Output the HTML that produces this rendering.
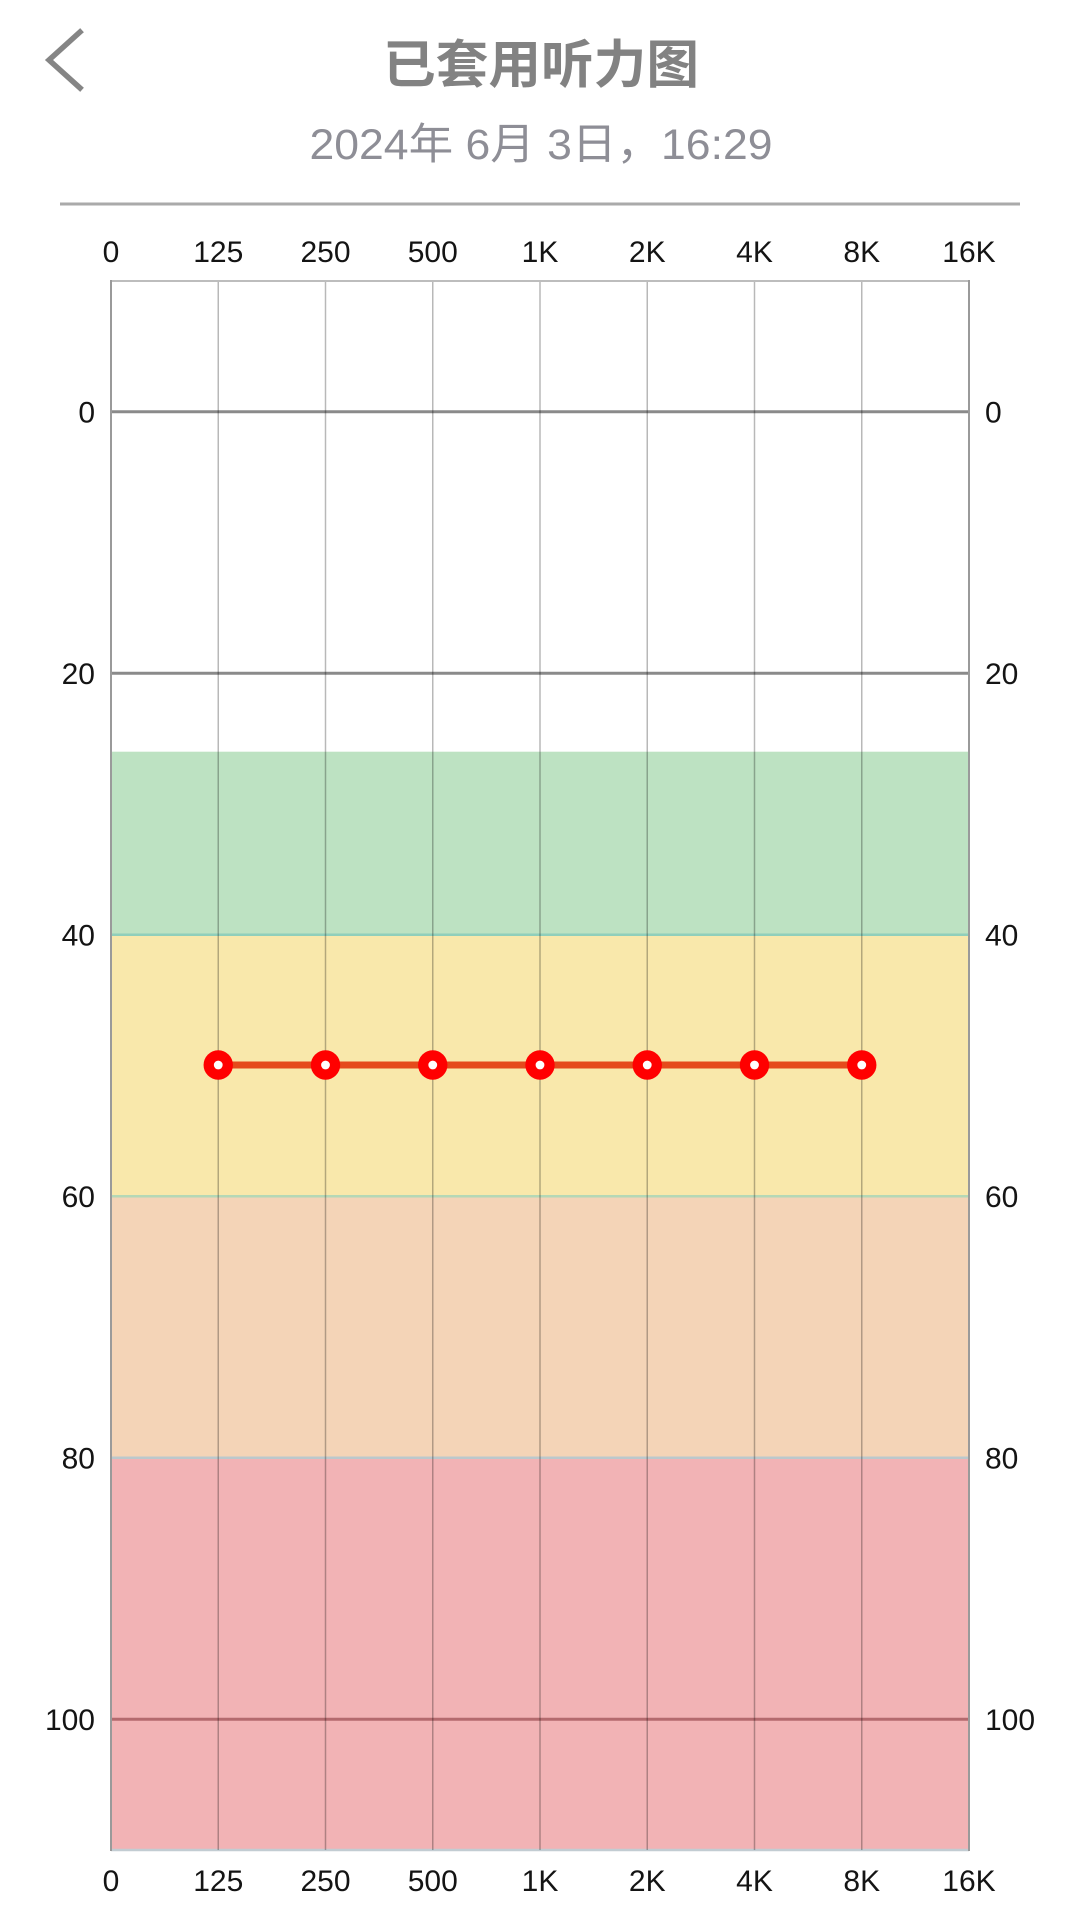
<!DOCTYPE html>
<html>
<head>
<meta charset="utf-8">
<style>
  html, body { margin:0; padding:0; background:#ffffff; }
  body { width:1080px; height:1920px; overflow:hidden; position:relative; }
  svg { position:absolute; left:0; top:0; }
  .ax { font-family: "Liberation Sans", "Noto Sans CJK SC", sans-serif; font-size:30px; fill:#141414; }
</style>
</head>
<body>
<svg width="1080" height="1920" viewBox="0 0 1080 1920" xmlns="http://www.w3.org/2000/svg">
  <!-- header -->
  <polyline points="80,32 49,60 80,88" fill="none" stroke="#858585" stroke-width="5.5" stroke-linecap="square" stroke-linejoin="miter"/>
  <text x="541" y="83" text-anchor="middle" textLength="316" lengthAdjust="spacingAndGlyphs"
        style="font-family:'Liberation Sans','Noto Sans CJK SC',sans-serif;font-size:52px;font-weight:bold;fill:#828282;">已套用听力图</text>
  <text x="541" y="159" text-anchor="middle" textLength="463" lengthAdjust="spacingAndGlyphs"
        style="font-family:'Liberation Sans','Noto Sans CJK SC',sans-serif;font-size:43px;fill:#8e8e96;">2024年 6月 3日，16:29</text>
  <line x1="60" y1="204" x2="1020" y2="204" stroke="#aaaaaa" stroke-width="3"/>

  <!-- bands -->
  <rect x="111" y="751.7" width="858" height="183" fill="#bde2c2"/>
  <rect x="111" y="934.7" width="858" height="261.6" fill="#f9e8ab"/>
  <rect x="111" y="1196.3" width="858" height="261.5" fill="#f4d4b7"/>
  <rect x="111" y="1457.8" width="858" height="392.3" fill="#f2b3b5"/>

  <!-- horizontal major lines -->
  <line x1="111" y1="411.7" x2="969" y2="411.7" stroke="#8a8a8a" stroke-width="3"/>
  <line x1="111" y1="673.2" x2="969" y2="673.2" stroke="#8a8a8a" stroke-width="3"/>
  <line x1="111" y1="1719.3" x2="969" y2="1719.3" stroke="#b46a6e" stroke-width="3"/>

  <!-- band boundaries -->
  <line x1="111" y1="934.7" x2="969" y2="934.7" stroke="#90cfbb" stroke-width="2.5"/>
  <line x1="111" y1="1196.3" x2="969" y2="1196.3" stroke="#b5d8b6" stroke-width="2.5"/>
  <line x1="111" y1="1457.8" x2="969" y2="1457.8" stroke="#bcc8cc" stroke-width="2.5"/>
  <line x1="111" y1="1850" x2="969" y2="1850" stroke="#c2ccd2" stroke-width="2.5"/>

  <!-- vertical grid lines -->
  <g stroke="rgba(0,0,0,0.28)" stroke-width="1.5">
    <line x1="218.25" y1="281" x2="218.25" y2="1850"/>
    <line x1="325.5" y1="281" x2="325.5" y2="1850"/>
    <line x1="432.75" y1="281" x2="432.75" y2="1850"/>
    <line x1="540" y1="281" x2="540" y2="1850"/>
    <line x1="647.25" y1="281" x2="647.25" y2="1850"/>
    <line x1="754.5" y1="281" x2="754.5" y2="1850"/>
    <line x1="861.75" y1="281" x2="861.75" y2="1850"/>
  </g>
  <!-- borders -->
  <line x1="111" y1="281" x2="969" y2="281" stroke="#bdbdbd" stroke-width="2"/>
  <line x1="111" y1="280" x2="111" y2="1851" stroke="#9a9a9a" stroke-width="2"/>
  <line x1="969" y1="280" x2="969" y2="1851" stroke="#9a9a9a" stroke-width="2"/>

  <!-- data series -->
  <line x1="218.25" y1="1065" x2="861.75" y2="1065" stroke="#e54a1c" stroke-width="7"/>
  <g fill="#ff0000">
    <circle cx="218.25" cy="1065" r="14.7"/>
    <circle cx="325.5" cy="1065" r="14.7"/>
    <circle cx="432.75" cy="1065" r="14.7"/>
    <circle cx="540" cy="1065" r="14.7"/>
    <circle cx="647.25" cy="1065" r="14.7"/>
    <circle cx="754.5" cy="1065" r="14.7"/>
    <circle cx="861.75" cy="1065" r="14.7"/>
  </g>
  <g fill="#ffffff">
    <circle cx="218.25" cy="1065" r="4.4"/>
    <circle cx="325.5" cy="1065" r="4.4"/>
    <circle cx="432.75" cy="1065" r="4.4"/>
    <circle cx="540" cy="1065" r="4.4"/>
    <circle cx="647.25" cy="1065" r="4.4"/>
    <circle cx="754.5" cy="1065" r="4.4"/>
    <circle cx="861.75" cy="1065" r="4.4"/>
  </g>

  <!-- top x labels -->
  <g class="ax" text-anchor="middle">
    <text x="111" y="262">0</text>
    <text x="218.25" y="262">125</text>
    <text x="325.5" y="262">250</text>
    <text x="432.75" y="262">500</text>
    <text x="540" y="262">1K</text>
    <text x="647.25" y="262">2K</text>
    <text x="754.5" y="262">4K</text>
    <text x="861.75" y="262">8K</text>
    <text x="969" y="262">16K</text>
  </g>
  <!-- bottom x labels -->
  <g class="ax" text-anchor="middle">
    <text x="111" y="1891">0</text>
    <text x="218.25" y="1891">125</text>
    <text x="325.5" y="1891">250</text>
    <text x="432.75" y="1891">500</text>
    <text x="540" y="1891">1K</text>
    <text x="647.25" y="1891">2K</text>
    <text x="754.5" y="1891">4K</text>
    <text x="861.75" y="1891">8K</text>
    <text x="969" y="1891">16K</text>
  </g>
  <!-- left y labels -->
  <g class="ax" text-anchor="end">
    <text x="95" y="422.5">0</text>
    <text x="95" y="684">20</text>
    <text x="95" y="945.5">40</text>
    <text x="95" y="1207">60</text>
    <text x="95" y="1468.5">80</text>
    <text x="95" y="1730">100</text>
  </g>
  <!-- right y labels -->
  <g class="ax" text-anchor="start">
    <text x="985" y="422.5">0</text>
    <text x="985" y="684">20</text>
    <text x="985" y="945.5">40</text>
    <text x="985" y="1207">60</text>
    <text x="985" y="1468.5">80</text>
    <text x="985" y="1730">100</text>
  </g>
</svg>
</body>
</html>
